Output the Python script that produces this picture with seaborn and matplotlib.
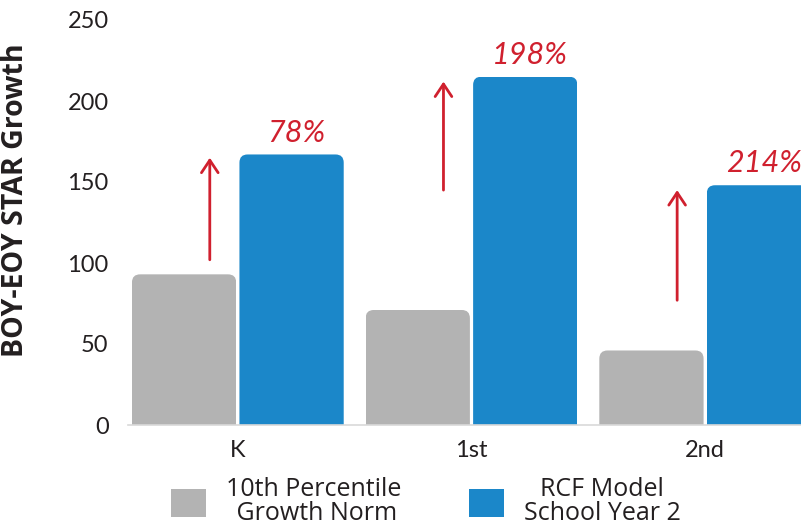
import matplotlib
matplotlib.use("Agg")
import pandas as pd
import matplotlib.pyplot as plt
import seaborn as sns
from matplotlib.patches import FancyBboxPatch

grades = ["K", "1st", "2nd"]
norm_growth = [93, 71, 46]
rcf_growth = [167, 215, 148]
pct_labels = ["78%", "198%", "214%"]
arrow_start = [102, 145, 77]
arrow_end = [165, 212, 145]
series_names = ["10th Percentile\n Growth Norm", "RCF Model\nSchool Year 2"]

df = pd.DataFrame({
    "grade": grades * 2,
    "growth": norm_growth + rcf_growth,
    "series": [series_names[0]] * 3 + [series_names[1]] * 3,
})

sns.set_style("white")
plt.rcParams["font.family"] = ["Lato", "DejaVu Sans"]
RED = "#d0202e"
TXT = "#231f20"

fig = plt.figure(figsize=(8.01, 5.25), dpi=100)
ax = fig.add_axes([128 / 801, 100 / 525, 1 - 128 / 801, 405 / 525])

sns.barplot(data=df, x="grade", y="growth", hue="series",
            palette=["#b3b3b3", "#1b87c9"], width=0.92, gap=0.03,
            saturation=1, ax=ax, legend=False)

ax.set_xlim(-0.47, 2.41)
ax.set_ylim(0, 250)
ax.set_yticks([0, 50, 100, 150, 200, 250])

# round top corners of the bars
aspect = (250 / 405) / (2.88 / 673)
for bar in ax.patches:
    x0, w, h = bar.get_x(), bar.get_width(), bar.get_height()
    clip = FancyBboxPatch((x0, -20), w, h + 20,
                          boxstyle="round,pad=0,rounding_size=0.035",
                          mutation_aspect=aspect, transform=ax.transData)
    bar.set_clip_path(clip)
    bar.set_edgecolor("none")

# arrows + percentage labels
for i in range(len(grades)):
    ax.annotate("", xy=(i - 0.12, arrow_end[i]), xytext=(i - 0.12, arrow_start[i]),
                arrowprops=dict(arrowstyle="->,head_length=0.45,head_width=0.3",
                                color=RED, lw=2, mutation_scale=20,
                                shrinkA=0, shrinkB=0))
    ax.text(i + 0.25, rcf_growth[i] + 8, pct_labels[i], ha="center", va="baseline",
            fontsize=22, style="italic", color=RED, clip_on=False)

sns.despine(ax=ax, left=True)
ax.spines["bottom"].set_color("#d9d9d9")
ax.spines["bottom"].set_linewidth(1.2)
ax.tick_params(axis="y", length=0, pad=14, labelsize=17, labelcolor=TXT)
ax.tick_params(axis="x", length=0, pad=11, labelsize=17, labelcolor=TXT)
ax.set_xlabel("")
ax.set_ylabel("BOY-EOY STAR Growth", fontsize=20.5, fontweight="bold", color=TXT,
              family=["Open Sans", "DejaVu Sans"])
ax.yaxis.set_label_coords(-0.145, 0.556)

leg = fig.legend(ax.containers, series_names, ncol=2, loc="center",
                 bbox_to_anchor=(426 / 801, 0.044), frameon=False,
                 prop={"family": ["Open Sans", "DejaVu Sans"], "size": 18},
                 handlelength=1.4, handleheight=1.35, handletextpad=0.8,
                 columnspacing=2.7, labelspacing=0.2)
for t in leg.get_texts():
    t.set_multialignment("center")
    t.set_color(TXT)
    t.set_linespacing(0.95)

fig.savefig("out.png", dpi=100)
